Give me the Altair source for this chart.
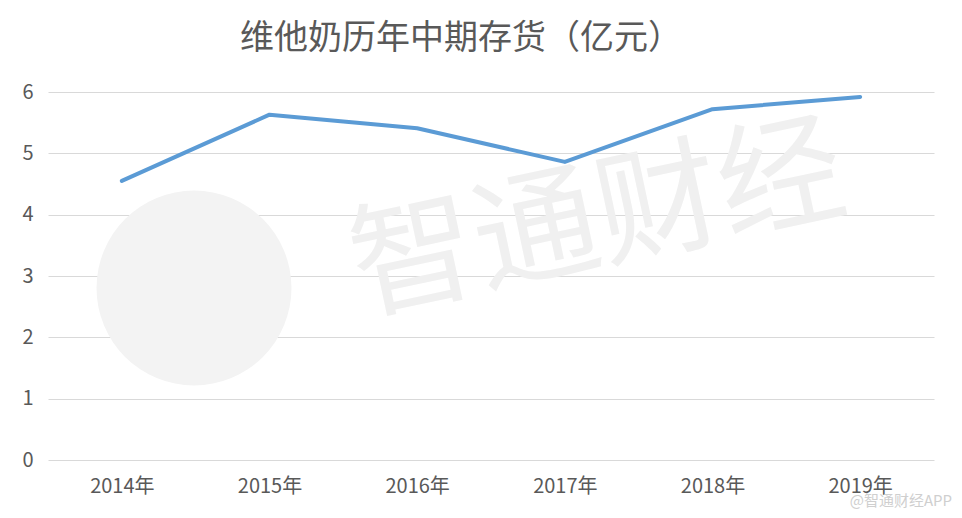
import altair as alt
import pandas as pd

years = ["2014年", "2015年", "2016年", "2017年", "2018年", "2019年"]
inventory = [4.55, 5.63, 5.41, 4.86, 5.72, 5.92]
y_ticks = [0, 1, 2, 3, 4, 5, 6]

df = pd.DataFrame({"year": years, "value": inventory})

FONT = "Noto Sans CJK SC"
W, H = 886, 368

base = alt.Chart(df)

# faint watermark (logo circle + text)
wm_circle = base.mark_circle(color="#f3f3f3", opacity=1).encode(
    x=alt.value(146), y=alt.value(196), size=alt.value(38000)
).transform_filter(alt.datum.year == "2014年")

wm_text = base.mark_text(
    text="智通财经", font=FONT, fontSize=125, color="#f0f0f0", angle=348,
    align="center", baseline="middle"
).encode(x=alt.value(550), y=alt.value(130)).transform_filter(alt.datum.year == "2014年")

line = base.mark_line(color="#5B9BD5", strokeWidth=4, strokeCap="round", strokeJoin="round").encode(
    x=alt.X("year:N", sort=years, scale=alt.Scale(type="point", padding=0.5),
            axis=alt.Axis(title=None, labelAngle=0, grid=False, ticks=False, domain=False,
                          labelFont=FONT, labelFontSize=20, labelColor="#595959", labelPadding=16)),
    y=alt.Y("value:Q", scale=alt.Scale(domain=[0, 6], nice=False),
            axis=alt.Axis(title=None, values=y_ticks, grid=True, gridColor="#d9d9d9", gridWidth=1.2,
                          ticks=False, domain=False, labelFont=FONT, labelFontSize=20,
                          labelColor="#595959", labelPadding=15)),
)

credit = base.mark_text(
    text="@智通财经APP", font=FONT, fontSize=15, color="#cfcfcf", align="right", baseline="middle"
).encode(x=alt.value(W + 18), y=alt.value(H + 41)).transform_filter(alt.datum.year == "2014年")

chart = alt.layer(wm_circle, wm_text, line, credit).properties(
    width=W, height=H,
    background="white",
    title=alt.TitleParams("维他奶历年中期存货（亿元）", font=FONT, fontSize=34, fontWeight="normal",
                          color="#595959", anchor="middle", dx=-30, offset=26),
    autosize=alt.AutoSizeParams(type="none"),
    padding={"left": 40, "top": 84, "right": 20, "bottom": 50},
).configure_view(stroke=None)

chart.save("out.html", embed_options={"renderer": "svg", "actions": False})
